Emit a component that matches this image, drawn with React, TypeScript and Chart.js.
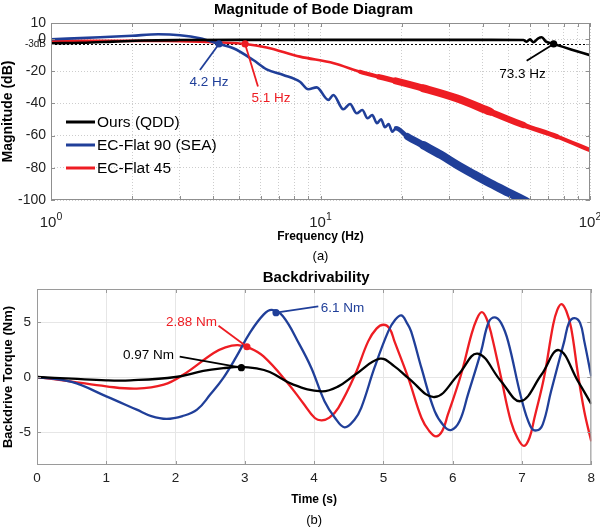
import React, { useEffect, useRef } from "react";
import { Chart, registerables } from "chart.js";

Chart.register(...registerables);

const FONT = "Arial, 'Liberation Sans', Helvetica, sans-serif";
const BLUE = "#203f99";
const RED = "#ee1d23";
const BLACK = "#000000";

// ---------- (a) Bode magnitude ----------
const QDD_FREQ = [1, 1.3, 1.7, 2.2, 3, 5, 10, 20, 40, 56.6, 58.2, 59.9, 61.6, 64.3, 66.2, 68.7, 73.3, 85, 100];
const QDD_DB = [-2.6, -2.3, -1.6, -0.9, -0.6, -0.5, -0.5, -0.5, -0.5, -0.6, -1.6, -0.1, -2.0, 0.5, 1.1, -1.6, -3.0, -6.4, -10];

const SEA_FREQ = [1, 1.52, 2.0, 2.5, 3.01, 3.57, 4.2, 4.75, 5.63, 6.31, 7.28, 8.39, 9.01, 9.68, 10.69, 11.16, 12.15, 12.87, 13.62, 14.29, 14.96, 15.56, 16.2, 16.77, 17.35, 17.9, 18.46, 19.06, 21, 24.1, 28, 32, 37, 42.6, 50, 56.6, 60];
const SEA_DB = [-0.1, 1.1, 2.1, 3.0, 2.4, 0.5, -3, -5.7, -13, -18.8, -22.3, -26.5, -31.2, -30.0, -37.8, -34.7, -43.6, -40.3, -46.1, -44.1, -49.2, -47.2, -52.3, -49.8, -54.8, -52.8, -57.5, -55.4, -60.5, -66, -72, -78, -84, -89.6, -95.5, -100, -102.5];

const F45_FREQ = [1, 1.5, 2, 2.5, 3, 3.57, 4.3, 5.25, 6.31, 8.39, 11.2, 14, 16.5, 19, 24.1, 32, 42.6, 56.6, 75.4, 100];
const F45_DB = [-1.1, -1.1, -1.1, -1.2, -1.3, -1.6, -2.1, -3.0, -5.2, -10.9, -15, -20.3, -23.5, -26, -30.6, -36.8, -45.1, -53.4, -60.6, -69];

const BODE_MAJOR = [1, 10, 100];
const BODE_Y_TICKS = [-100, -80, -60, -40, -20, -3, 0, 10];
const CUTOFF_DB = -3;

const BODE_NOTES = [
  { text: "4.2 Hz", color: BLUE, pt: [4.2, -3], end: [3.57, -19.2], lab: [3.86, -26.7] },
  { text: "5.1 Hz", color: RED, pt: [5.25, -3], end: [5.86, -29.5], lab: [6.55, -36.9] },
  { text: "73.3 Hz", color: BLACK, pt: [73.3, -3], end: [58.2, -13.4], lab: [56.2, -21.7] },
];

// ---------- (b) Backdrivability ----------
const QDD_T = [0, 0.5, 1.0, 1.35, 2.0, 2.4, 2.69, 2.93, 3.17, 3.36, 3.70, 4.11, 4.35, 4.59, 4.95, 5.16, 5.36, 5.74, 6.08, 6.36, 6.70, 6.98, 7.28, 7.53, 7.81, 8.0];
const QDD_TQ = [0, -0.15, -0.3, -0.3, 0.0, 0.55, 0.8, 0.92, 0.78, 0.45, -0.7, -1.3, -0.85, 0.2, 1.66, 0.97, -0.1, -1.82, 0.2, 2.12, -0.4, -2.2, 0.2, 2.45, -0.4, -2.45];

const SEA_T = [0, 0.5, 1.0, 1.44, 1.65, 1.87, 2.1, 2.31, 2.5, 2.69, 2.88, 3.07, 3.27, 3.39, 3.55, 3.79, 3.96, 4.15, 4.3, 4.44, 4.58, 4.68, 4.87, 5.07, 5.17, 5.26, 5.34, 5.40, 5.55, 5.74, 5.88, 5.98, 6.1, 6.22, 6.41, 6.52, 6.61, 6.7, 6.80, 6.99, 7.12, 7.21, 7.3, 7.42, 7.61, 7.68, 7.76, 7.84, 7.90, 8.0];
const SEA_TQ = [0, -0.45, -1.76, -2.97, -3.55, -3.8, -3.55, -2.97, -1.6, -0.08, 1.87, 3.99, 5.67, 6.1, 5.52, 2.94, 0.82, -2.2, -3.7, -4.58, -3.9, -2.8, 0.82, 4.15, 5.2, 5.6, 4.9, 4.15, 0.8, -3.1, -4.5, -4.82, -4.0, -1.6, 2.33, 5.0, 5.42, 4.9, 3.24, -1.91, -4.45, -4.86, -4.3, -1.3, 3.24, 4.95, 5.36, 4.9, 3.24, 0.06];

const F45_T = [0, 0.48, 1.0, 1.44, 1.83, 2.11, 2.55, 2.72, 2.9, 3.08, 3.27, 3.6, 3.84, 4.01, 4.11, 4.22, 4.35, 4.59, 4.78, 4.9, 5.0, 5.09, 5.16, 5.36, 5.55, 5.66, 5.76, 5.85, 5.93, 6.12, 6.27, 6.35, 6.42, 6.49, 6.56, 6.70, 6.84, 6.94, 7.03, 7.11, 7.18, 7.32, 7.45, 7.51, 7.57, 7.64, 7.71, 7.81, 7.90, 8.0];
const F45_TQ = [0, -0.39, -0.85, -1.06, -0.7, 0.2, 2.18, 2.7, 2.9, 2.6, 1.87, -0.4, -2.36, -3.73, -3.94, -3.7, -2.8, 0.2, 3.24, 4.4, 4.75, 4.4, 3.24, -0.1, -3.73, -4.9, -5.4, -4.9, -3.43, 0.2, 3.85, 5.3, 5.9, 5.3, 3.85, -0.1, -4.03, -5.6, -6.27, -5.5, -3.73, 0, 4.75, 6.1, 6.63, 6.0, 4.45, 0.2, -3.13, -5.85];

const TORQUE_TICKS = [-5, 0, 5];

const TORQUE_NOTES = [
  { text: "0.97 Nm", color: BLACK, pt: [2.95, 0.85], end: [2.06, 1.85], lab: [1.61, 1.94] },
  { text: "2.88 Nm", color: RED, pt: [3.03, 2.75], end: [2.62, 4.66], lab: [2.23, 4.98] },
  { text: "6.1 Nm", color: BLUE, pt: [3.45, 5.85], end: [4.06, 6.42], lab: [4.41, 6.21] },
];

const pts = (xs: number[], ys: number[]) => xs.map((x, i) => ({ x, y: ys[i] }));

// band widths (px) where the measured response oscillates densely
const widthBy = (bands: number[][], base: number) => (c: any) => {
  const f = c.p0.parsed.x;
  for (const [a, b, w] of bands) if (f >= a && f < b) return w;
  return base;
};
const RED_BANDS = [[14, 16.5, 4], [16.5, 19, 5.5], [19, 24, 7], [24, 42, 8], [42, 56, 6.5], [56, 75, 5], [75, 101, 4.2]];
const BLUE_BANDS = [[19, 21, 4.5], [21, 24, 7], [24, 61, 8.5]];

const textPlugin = (cfg: any) => ({
  id: "texts",
  afterDraw(chart: any) {
    const { ctx, chartArea: a } = chart;
    const cx = (a.left + a.right) / 2;
    ctx.save();
    ctx.fillStyle = "#000";
    ctx.textAlign = "center";
    ctx.textBaseline = "middle";
    ctx.font = `bold 15px ${FONT}`;
    ctx.fillText(cfg.title, cx + cfg.titleDx, cfg.titleY);
    ctx.font = `bold 12px ${FONT}`;
    ctx.fillText(cfg.xTitle, cx, cfg.xTitleY);
    ctx.font = `13px ${FONT}`;
    ctx.fillText(cfg.sub, cx, cfg.subY);
    ctx.translate(cfg.yTitleX, (a.top + a.bottom) / 2);
    ctx.rotate(-Math.PI / 2);
    ctx.font = `bold ${cfg.yTitleSize}px ${FONT}`;
    ctx.fillText(cfg.yTitle, 0, 0);
    ctx.restore();
  },
});

const framePlugin = (color: string, tickLen: number) => ({
  id: "frame",
  afterDraw(chart: any) {
    const { ctx, chartArea: a, scales } = chart;
    ctx.save();
    ctx.strokeStyle = color;
    ctx.lineWidth = 1;
    ctx.beginPath();
    for (const t of scales.x.ticks) {
      const px = Math.round(scales.x.getPixelForValue(t.value)) + 0.5;
      ctx.moveTo(px, a.bottom);
      ctx.lineTo(px, a.bottom - tickLen);
      ctx.moveTo(px, a.top);
      ctx.lineTo(px, a.top + tickLen);
    }
    for (const t of scales.y.ticks) {
      const py = Math.round(scales.y.getPixelForValue(t.value)) + 0.5;
      ctx.moveTo(a.left, py);
      ctx.lineTo(a.left + tickLen, py);
      ctx.moveTo(a.right, py);
      ctx.lineTo(a.right - tickLen, py);
    }
    ctx.stroke();
    ctx.strokeRect(a.left + 0.5, a.top + 0.5, a.right - a.left - 1, a.bottom - a.top - 1);
    ctx.restore();
  },
});

const notesPlugin = (notes: any[], size: number) => ({
  id: "notes",
  afterDatasetsDraw(chart: any) {
    const { ctx, scales } = chart;
    const X = (v: number) => scales.x.getPixelForValue(v);
    const Y = (v: number) => scales.y.getPixelForValue(v);
    ctx.save();
    for (const n of notes) {
      ctx.strokeStyle = n.color;
      ctx.fillStyle = n.color;
      ctx.lineWidth = 1.8;
      ctx.beginPath();
      ctx.moveTo(X(n.pt[0]), Y(n.pt[1]));
      ctx.lineTo(X(n.end[0]), Y(n.end[1]));
      ctx.stroke();
      ctx.beginPath();
      ctx.arc(X(n.pt[0]), Y(n.pt[1]), 3.6, 0, Math.PI * 2);
      ctx.fill();
      ctx.font = `${size}px ${FONT}`;
      ctx.textAlign = "center";
      ctx.textBaseline = "middle";
      ctx.fillText(n.text, X(n.lab[0]), Y(n.lab[1]));
    }
    ctx.restore();
  },
});

const cutoffPlugin = {
  id: "cutoff",
  beforeDatasetsDraw(chart: any) {
    const { ctx, chartArea: a, scales } = chart;
    const y = Math.round(scales.y.getPixelForValue(CUTOFF_DB)) + 0.5;
    ctx.save();
    ctx.strokeStyle = "#000";
    ctx.lineWidth = 1;
    ctx.setLineDash([2, 2]);
    ctx.beginPath();
    ctx.moveTo(a.left, y);
    ctx.lineTo(a.right, y);
    ctx.stroke();
    ctx.restore();
  },
};

const legendPlugin = {
  id: "insideLegend",
  afterDatasetsDraw(chart: any) {
    const { ctx, chartArea: a } = chart;
    ctx.save();
    chart.data.datasets.forEach((ds: any, i: number) => {
      const y = a.top + 99 + i * 23;
      ctx.strokeStyle = ds.borderColor;
      ctx.lineWidth = 3;
      ctx.beginPath();
      ctx.moveTo(a.left + 15, y);
      ctx.lineTo(a.left + 44, y);
      ctx.stroke();
      ctx.fillStyle = "#000";
      ctx.font = `15.5px ${FONT}`;
      ctx.textAlign = "left";
      ctx.textBaseline = "middle";
      ctx.fillText(ds.label, a.left + 46, y + 0.5);
    });
    ctx.restore();
  },
};

const logLabelsPlugin = {
  id: "logLabels",
  afterDraw(chart: any) {
    const { ctx, chartArea: a, scales } = chart;
    ctx.save();
    ctx.fillStyle = "#222";
    ctx.textBaseline = "alphabetic";
    for (const v of BODE_MAJOR) {
      const px = scales.x.getPixelForValue(v);
      const exp = String(Math.round(Math.log10(v)));
      ctx.font = `15px ${FONT}`;
      const w1 = ctx.measureText("10").width;
      ctx.font = `10.5px ${FONT}`;
      const w2 = ctx.measureText(exp).width;
      const x0 = px - (w1 + w2) / 2;
      ctx.textAlign = "left";
      ctx.font = `15px ${FONT}`;
      ctx.fillText("10", x0, a.bottom + 27);
      ctx.font = `10.5px ${FONT}`;
      ctx.fillText(exp, x0 + w1, a.bottom + 20);
    }
    ctx.restore();
  },
};

function bodeConfig(): any {
  const line = (label: string, color: string, xs: number[], ys: number[], bands: number[][]) => ({
    label,
    data: pts(xs, ys),
    borderColor: color,
    backgroundColor: color,
    borderWidth: 2.6,
    pointRadius: 0,
    cubicInterpolationMode: "monotone",
    borderCapStyle: "round",
    borderJoinStyle: "round",
    clip: 0,
    segment: { borderWidth: widthBy(bands, 2.6) },
  });
  return {
    type: "line",
    data: {
      datasets: [
        line("Ours (QDD)", BLACK, QDD_FREQ, QDD_DB, []),
        line("EC-Flat 90 (SEA)", BLUE, SEA_FREQ, SEA_DB, BLUE_BANDS),
        line("EC-Flat 45", RED, F45_FREQ, F45_DB, RED_BANDS),
      ],
    },
    options: {
      responsive: false,
      animation: false,
      devicePixelRatio: 1,
      layout: { padding: { top: 23, right: 10, left: 0, bottom: 0 } },
      plugins: { legend: { display: false }, tooltip: { enabled: false }, title: { display: false } },
      scales: {
        x: {
          type: "logarithmic",
          min: 1,
          max: 100,
          afterBuildTicks: (s: any) => {
            const t: any[] = [];
            for (const d of [1, 10]) for (let k = 1; k < 10; k++) t.push({ value: k * d });
            t.push({ value: 100 });
            s.ticks = t;
          },
          afterFit: (s: any) => { s.height = 65; },
          ticks: { display: false },
          grid: { color: "#cdcdcd", drawTicks: false, lineWidth: 1 },
          border: { display: false, dash: [1, 2] },
        },
        y: {
          type: "linear",
          min: -100,
          max: 10,
          afterBuildTicks: (s: any) => { s.ticks = BODE_Y_TICKS.map((v) => ({ value: v })); },
          afterFit: (s: any) => { s.width = 51; },
          ticks: {
            autoSkip: false,
            padding: 5,
            color: "#222",
            callback: (v: any) => (v === CUTOFF_DB ? "-3dB" : String(v)),
            font: (c: any) => ({ family: FONT, size: c.tick && c.tick.value === CUTOFF_DB ? 10 : 14 }),
          },
          grid: {
            color: (c: any) => (c.tick && c.tick.value === CUTOFF_DB ? "rgba(0,0,0,0)" : "#cdcdcd"),
            drawTicks: false,
          },
          border: { display: false, dash: [1, 2] },
        },
      },
    },
    plugins: [
      cutoffPlugin,
      legendPlugin,
      logLabelsPlugin,
      notesPlugin(BODE_NOTES, 13.5),
      framePlugin("#8f8f8f", 4),
      textPlugin({
        title: "Magnitude of Bode Diagram",
        titleDx: -7,
        titleY: 9.5,
        xTitle: "Frequency (Hz)",
        xTitleY: 237,
        sub: "(a)",
        subY: 256,
        yTitle: "Magnitude (dB)",
        yTitleX: 8,
        yTitleSize: 14,
      }),
    ],
  };
}

function torqueConfig(): any {
  const line = (label: string, color: string, xs: number[], ys: number[]) => ({
    label,
    data: pts(xs, ys),
    borderColor: color,
    backgroundColor: color,
    borderWidth: 2.3,
    pointRadius: 0,
    tension: 0.4,
    clip: 0,
  });
  return {
    type: "line",
    data: {
      datasets: [
        line("Ours (QDD)", BLACK, QDD_T, QDD_TQ),
        line("EC-Flat 90 (SEA)", BLUE, SEA_T, SEA_TQ),
        line("EC-Flat 45", RED, F45_T, F45_TQ),
      ],
    },
    options: {
      responsive: false,
      animation: false,
      devicePixelRatio: 1,
      layout: { padding: { top: 24, right: 8, left: 0, bottom: 0 } },
      plugins: { legend: { display: false }, tooltip: { enabled: false }, title: { display: false } },
      scales: {
        x: {
          type: "linear",
          min: 0,
          max: 8,
          afterFit: (s: any) => { s.height = 64; },
          ticks: { stepSize: 1, padding: 5, color: "#222", font: { family: FONT, size: 13.5 } },
          grid: { color: "#e6e6e6", drawTicks: false },
          border: { display: false },
        },
        y: {
          type: "linear",
          min: -8,
          max: 8,
          afterBuildTicks: (s: any) => { s.ticks = TORQUE_TICKS.map((v) => ({ value: v })); },
          afterFit: (s: any) => { s.width = 37; },
          ticks: { autoSkip: false, padding: 6, color: "#222", font: { family: FONT, size: 13.5 } },
          grid: { color: "#e6e6e6", drawTicks: false },
          border: { display: false },
        },
      },
    },
    plugins: [
      notesPlugin(TORQUE_NOTES, 13.5),
      framePlugin("#9a9a9a", 4),
      textPlugin({
        title: "Backdrivability",
        titleDx: 2,
        titleY: 12.5,
        xTitle: "Time (s)",
        xTitleY: 234.5,
        sub: "(b)",
        subY: 255,
        yTitle: "Backdrive Torque (Nm)",
        yTitleX: 8,
        yTitleSize: 13,
      }),
    ],
  };
}

export default function App() {
  const topRef = useRef<HTMLCanvasElement>(null);
  const botRef = useRef<HTMLCanvasElement>(null);
  useEffect(() => {
    const c1 = new Chart(topRef.current as HTMLCanvasElement, bodeConfig());
    const c2 = new Chart(botRef.current as HTMLCanvasElement, torqueConfig());
    return () => {
      c1.destroy();
      c2.destroy();
    };
  }, []);
  return (
    <div style={{ position: "absolute", left: 0, top: 0, width: 600, height: 529, background: "#fff" }}>
      <canvas ref={topRef} width={600} height={265} style={{ position: "absolute", left: 0, top: 0, width: 600, height: 265 }} />
      <canvas ref={botRef} width={600} height={264} style={{ position: "absolute", left: 0, top: 265, width: 600, height: 264 }} />
    </div>
  );
}
